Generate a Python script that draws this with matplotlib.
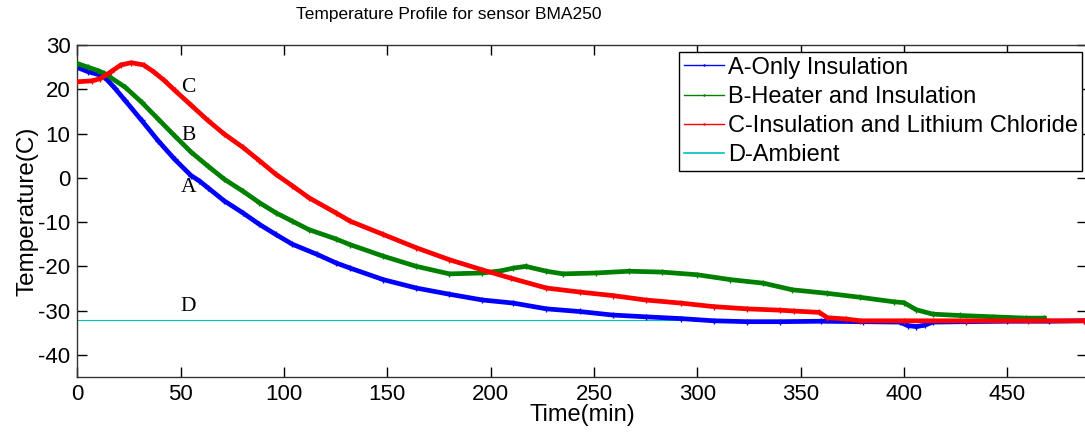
import matplotlib.pyplot as plt
from matplotlib.lines import Line2D

# values (time in min, temperature in C)
time_a = [0, 5, 11, 13, 18, 23, 31, 39, 47, 55, 59, 63, 71, 80, 88, 96, 104, 116, 125,
          132, 148, 164, 180, 196, 211, 227, 243, 259, 275, 292, 308, 324, 340, 360,
          380, 398, 402, 406, 410, 414, 430, 450, 470, 487]
temp_a = [24.9, 24.0, 23.2, 22.8, 20.3, 17.5, 13.0, 8.4, 4.2, 0.5, -0.7, -2.2, -5.2, -7.9,
          -10.5, -12.8, -15.0, -17.3, -19.2, -20.4, -23.0, -24.9, -26.3, -27.6, -28.3,
          -29.6, -30.2, -31.0, -31.4, -31.8, -32.3, -32.5, -32.5, -32.4, -32.5, -32.6,
          -33.4, -33.6, -33.3, -32.6, -32.5, -32.4, -32.4, -32.3]

time_b = [0, 5, 10, 13, 23, 31, 39, 47, 55, 63, 71, 80, 88, 96, 104, 112, 125, 132, 148,
          164, 180, 196, 205, 211, 217, 227, 235, 251, 267, 283, 300, 316, 332, 346, 363,
          379, 395, 400, 406, 414, 427, 443, 459, 468]
temp_b = [25.8, 25.0, 24.2, 23.6, 20.5, 17.1, 13.3, 9.5, 5.8, 2.7, -0.3, -3.0, -5.6, -7.9,
          -9.8, -11.7, -13.8, -15.1, -17.7, -20.0, -21.7, -21.5, -21.0, -20.4, -20.0,
          -21.1, -21.7, -21.5, -21.1, -21.3, -21.9, -23.0, -23.8, -25.3, -26.1, -27.0,
          -28.0, -28.2, -29.8, -30.8, -31.1, -31.4, -31.7, -31.7]

time_c = [0, 7, 11, 16, 21, 26, 32, 37, 42, 47, 55, 63, 71, 80, 88, 96, 104, 112, 125,
          132, 148, 164, 180, 196, 210, 227, 243, 259, 275, 292, 308, 324, 340, 347, 359,
          363, 372, 379, 400, 430, 460, 487]
temp_c = [21.7, 21.9, 22.4, 23.9, 25.5, 26.0, 25.5, 23.9, 22.0, 19.8, 16.4, 13.0, 9.9, 6.9,
          3.9, 0.8, -1.8, -4.5, -7.9, -9.8, -12.8, -15.8, -18.5, -20.8, -22.7, -24.9,
          -25.8, -26.6, -27.6, -28.3, -29.1, -29.6, -29.9, -30.1, -30.4, -31.6, -31.9,
          -32.3, -32.3, -32.3, -32.3, -32.3]

time_d = [0, 488]
temp_d = [-32.2, -32.2]

series_names = ["A-Only Insulation", "B-Heater and Insulation",
                "C-Insulation and Lithium Chloride", "D-Ambient"]
curve_labels = ["A", "B", "C", "D"]
label_x = [53.6, 53.6, 53.6, 53.6]
label_y = [-2.2, 9.5, 20.5, -29.1]

x_ticks = list(range(0, 451, 50))
y_ticks = list(range(-40, 31, 10))

blue = (0, 0, 1)
green = (0, 0.5, 0)
red = (1, 0, 0)
cyan = (0, 0.75, 0.75)

plt.rcParams['font.family'] = ['Liberation Sans', 'DejaVu Sans']
plt.rcParams['axes.unicode_minus'] = False

fig = plt.figure(figsize=(10.85, 4.34), dpi=100)
ax = fig.add_axes([0.0714, 0.1313, 0.93, 0.765])

ax.plot(time_d, temp_d, color=cyan, linewidth=0.8, zorder=1)
ax.plot(time_a, temp_a, color=blue, linewidth=3.4, marker='+', markersize=4, zorder=2)
ax.plot(time_b, temp_b, color=green, linewidth=3.4, marker='+', markersize=4, zorder=3)
ax.plot(time_c, temp_c, color=red, linewidth=3.4, marker='+', markersize=4, zorder=4)

for lab, lx, ly in zip(curve_labels, label_x, label_y):
    ax.text(lx, ly, lab, family='Liberation Serif', fontsize=15.5,
            ha='center', va='center')

ax.set_xlim(0, 488.4)
ax.set_ylim(-45, 30)
ax.set_xticks(x_ticks)
ax.set_yticks(y_ticks)
ax.tick_params(direction='in', length=7, width=1, top=True, right=True,
               labelsize=16, pad=5)
for sp in ax.spines.values():
    sp.set_linewidth(1)
    sp.set_color('#333333')

ax.set_xlabel('Time(min)', fontsize=17, labelpad=-1)
ax.set_ylabel('Temperature(C)', fontsize=17.5, labelpad=0)
fig.text(449 / 1085, 1 - 14 / 434, 'Temperature Profile for sensor BMA250',
         fontsize=12.5, ha='center', va='center')

handles = [Line2D([], [], color=blue, linewidth=1, marker='+', markersize=2),
           Line2D([], [], color=green, linewidth=1, marker='+', markersize=2),
           Line2D([], [], color=red, linewidth=1, marker='+', markersize=2),
           Line2D([], [], color=cyan, linewidth=1.2)]
leg = ax.legend(handles, series_names, loc='upper right',
                bbox_to_anchor=(0.996, 0.979), borderaxespad=0, fontsize=17,
                fancybox=False, framealpha=1, edgecolor='black',
                handlelength=1.7, handletextpad=0.15, labelspacing=0.3,
                borderpad=0.2)
leg.get_frame().set_linewidth(1)

fig.savefig('out.png', dpi=100)
